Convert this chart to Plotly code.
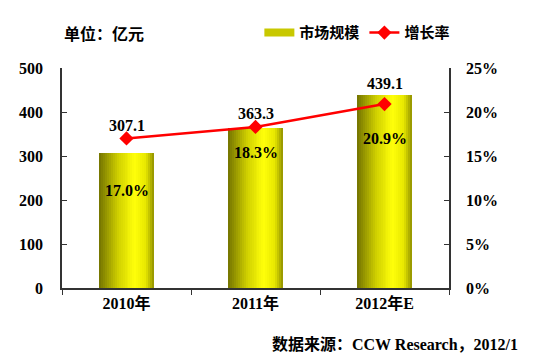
import plotly.graph_objects as go

categories = ["2010年", "2011年", "2012年E"]
market_size = [307.1, 363.3, 439.1]
growth_rate = [0.170, 0.183, 0.209]
growth_labels = ["17.0%", "18.3%", "20.9%"]
size_labels = ["307.1", "363.3", "439.1"]
left_ticks = [0, 100, 200, 300, 400, 500]
right_ticks = [0, 0.05, 0.10, 0.15, 0.20, 0.25]

FONT = "'Liberation Serif', 'Times New Roman', 'Noto Sans CJK SC', serif"
CJK = "'Noto Sans CJK SC', 'Liberation Serif', sans-serif"

fig = go.Figure()

# cylindrical yellow gradient simulated by thin overlaid bar strips
bar_w = 0.43
n = 28
def grad(t):
    stops = [(0.0, (115, 115, 0)), (0.35, (210, 210, 0)), (0.65, (255, 255, 10)),
             (0.85, (232, 232, 0)), (1.0, (145, 145, 0))]
    for (a, ca), (b, cb) in zip(stops[:-1], stops[1:]):
        if a <= t <= b:
            f = (t - a) / (b - a)
            c = [round(ca[k] + (cb[k] - ca[k]) * f) for k in range(3)]
            return f"rgb({c[0]},{c[1]},{c[2]})"
    return "rgb(145,145,0)"

sw = bar_w / n
for i in range(n):
    fig.add_trace(go.Bar(
        x=categories, y=market_size, width=[sw * 1.08] * 3,
        offset=-bar_w / 2 + i * sw,
        marker=dict(color=grad((i + 0.5) / n), line=dict(width=0)),
        showlegend=False, hoverinfo="skip", yaxis="y"))

# legend entries
fig.add_trace(go.Scatter(x=[None], y=[None], mode="lines", name="市场规模",
                         line=dict(color="#c8c800", width=8)))
fig.add_trace(go.Scatter(x=categories, y=growth_rate, mode="lines+markers", name="增长率",
                         yaxis="y2", line=dict(color="#ff0000", width=2.5),
                         marker=dict(symbol="diamond", size=11, color="#ff0000")))

LBL = dict(family=FONT, size=16, color="black", weight="bold")
ann = []
size_shift = [2, 3, 1]
for i, c in enumerate(categories):
    if i < 2:
        ann.append(dict(x=c, y=growth_rate[i], xref="x", yref="y2", text=size_labels[i],
                        showarrow=False, yshift=size_shift[i], yanchor="bottom", font=LBL))
    else:
        ann.append(dict(x=c, y=market_size[i], xref="x", yref="y", text=size_labels[i],
                        showarrow=False, yshift=size_shift[i], yanchor="bottom", font=LBL))
pct_shift = [-52, -26, -34]
for i, c in enumerate(categories):
    ann.append(dict(x=c, y=growth_rate[i], xref="x", yref="y2", text=growth_labels[i],
                    showarrow=False, yshift=pct_shift[i], font=LBL))

ann.append(dict(x=0, y=1.16, xref="paper", yref="paper", xanchor="left", yanchor="middle",
                text="单位：亿元", showarrow=False,
                font=dict(family=CJK, size=16, color="black", weight="bold")))
ann.append(dict(x=1.183, y=-0.259, xref="paper", yref="paper", xanchor="right", yanchor="middle",
                text="数据来源：CCW Research，2012/1", showarrow=False,
                font=dict(family=FONT, size=16, color="black", weight="bold")))

fig.update_layout(
    width=537, height=364,
    margin=dict(l=62, r=88, t=68, b=76),
    paper_bgcolor="white", plot_bgcolor="white",
    barmode="overlay", bargap=0,
    showlegend=True,
    legend=dict(orientation="h", x=0.51, y=1.16, xanchor="left", yanchor="middle",
                font=dict(family=CJK, size=15, color="black", weight="bold"),
                itemwidth=30, tracegroupgap=0, bgcolor="rgba(0,0,0,0)"),
    xaxis=dict(type="category", showline=True, linecolor="#333", linewidth=1.5,
               ticks="outside", tickson="boundaries", ticklen=5, tickcolor="#333",
               tickfont=dict(family=FONT, size=16, color="black", weight="bold"),
               showgrid=False, range=[-0.5, 2.5]),
    yaxis=dict(range=[0, 500], tickvals=left_ticks, showline=True, linecolor="#333",
               linewidth=1.5, ticks="inside", ticklen=5, tickcolor="#333",
               showgrid=False, zeroline=False, ticklabelstandoff=14,
               tickfont=dict(family=FONT, size=16, color="black", weight="bold")),
    yaxis2=dict(range=[0, 0.25], tickvals=right_ticks, tickformat=".0%", overlaying="y",
                side="right", showline=True, linecolor="#333", linewidth=1.5,
                ticks="inside", ticklen=5, tickcolor="#333", showgrid=False,
                zeroline=False, ticklabelstandoff=12,
                tickfont=dict(family=FONT, size=16, color="black", weight="bold")),
    annotations=ann,
)

fig.write_html("out.html", config={"displayModeBar": False},
               post_script="document.body.style.margin='0';document.body.style.padding='0';")
